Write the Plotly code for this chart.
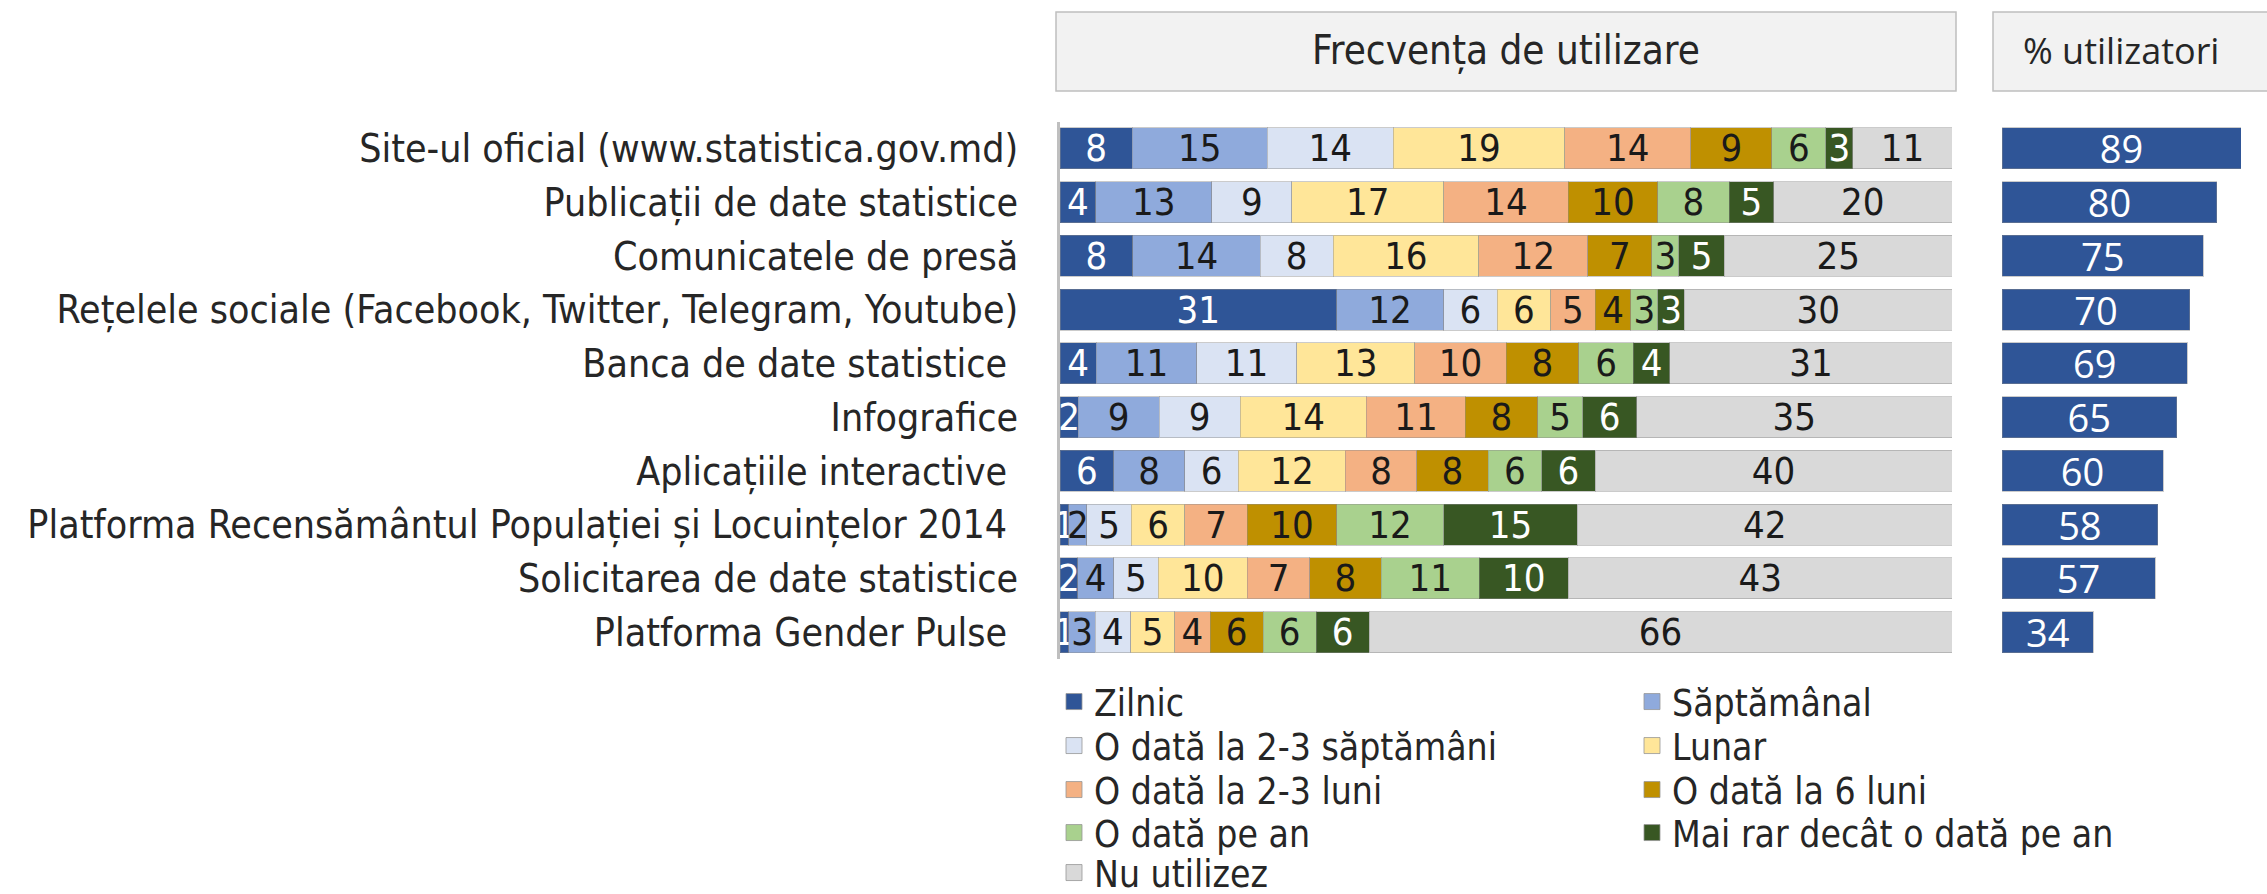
import plotly.graph_objects as go

# ---------------- data ----------------
categories = [
    "Site-ul oficial (www.statistica.gov.md)",
    "Publicații de date statistice",
    "Comunicatele de presă",
    "Rețelele sociale (Facebook, Twitter, Telegram, Youtube)",
    "Banca de date statistice\u00a0",
    "Infografice",
    "Aplicațiile interactive\u00a0",
    "Platforma Recensământul Populației și Locuințelor 2014\u00a0",
    "Solicitarea de date statistice",
    "Platforma Gender Pulse\u00a0",
]

series_names = [
    "Zilnic",
    "Săptămânal",
    "O dată la 2-3 săptămâni",
    "Lunar",
    "O dată la 2-3 luni",
    "O dată la 6 luni",
    "O dată pe an",
    "Mai rar decât o dată pe an",
    "Nu utilizez",
]

zilnic = [8, 4, 8, 31, 4, 2, 6, 1, 2, 1]
saptamanal = [15, 13, 14, 12, 11, 9, 8, 2, 4, 3]
la_2_3_saptamani = [14, 9, 8, 6, 11, 9, 6, 5, 5, 4]
lunar = [19, 17, 16, 6, 13, 14, 12, 6, 10, 5]
la_2_3_luni = [14, 14, 12, 5, 10, 11, 8, 7, 7, 4]
la_6_luni = [9, 10, 7, 4, 8, 8, 8, 10, 8, 6]
pe_an = [6, 8, 3, 3, 6, 5, 6, 12, 11, 6]
mai_rar = [3, 5, 5, 3, 4, 6, 6, 15, 10, 6]
nu_utilizez = [11, 20, 25, 30, 31, 35, 40, 42, 43, 66]

utilizatori = [89, 80, 75, 70, 69, 65, 60, 58, 57, 34]

header_left = "Frecvența de utilizare"
header_right = "% utilizatori"

series_values = [zilnic, saptamanal, la_2_3_saptamani, lunar, la_2_3_luni,
                 la_6_luni, pe_an, mai_rar, nu_utilizez]

# ---------------- styles ----------------
colors = ["#2F5597", "#8FAADC", "#DAE3F3", "#FFE699", "#F4B183",
          "#BF9000", "#A9D18E", "#385723", "#D9D9D9"]
text_colors = ["#FFFFFF", "#1A1A1A", "#1A1A1A", "#1A1A1A", "#1A1A1A",
               "#1A1A1A", "#1A1A1A", "#FFFFFF", "#1A1A1A"]
legend_ids = ["legend", "legend", "legend2", "legend2", "legend3",
              "legend3", "legend4", "legend4", "legend5"]

COND = "Liberation Sans Narrow, DejaVu Sans Condensed, Arial Narrow, sans-serif"
WIDE = "Open Sans, DejaVu Sans, sans-serif"

W, H = 2267, 894
L = 1054
PW = W - L


def px(x):
    return (x - L) / PW


def py(y):
    return 1 - y / H


totals = [sum(col) for col in zip(*series_values)]
outline = "rgba(140,140,140,0.45)"

fig = go.Figure()
for name, vals, col, tc in zip(series_names, series_values, colors, text_colors):
    share = [100.0 * v / t for v, t in zip(vals, totals)]
    fig.add_trace(go.Bar(
        y=categories, x=share, orientation="h", name=name,
        marker=dict(color=col, line=dict(color=outline, width=1)),
        text=[str(v) for v in vals], textposition="inside",
        insidetextanchor="middle", textangle=0, constraintext="none",
        textfont=dict(family=COND, size=38, color=tc),
        xaxis="x", yaxis="y", showlegend=False, hoverinfo="skip",
    ))

# legend entries (square swatches)
for name, col, lg in zip(series_names, colors, legend_ids):
    fig.add_trace(go.Scatter(
        x=[None], y=[None], mode="markers", name=name,
        marker=dict(symbol="square", size=16, color=col,
                    line=dict(color="rgba(150,150,150,0.8)", width=1)),
        xaxis="x", yaxis="y", legend=lg, hoverinfo="skip",
    ))

fig.add_trace(go.Bar(
    y=categories, x=utilizatori, orientation="h", name=header_right,
    marker=dict(color="#2F5597", line=dict(color=outline, width=1)),
    text=[str(v) for v in utilizatori], textposition="inside",
    insidetextanchor="middle", textangle=0, constraintext="none",
    textfont=dict(family=WIDE, size=38, color="#FFFFFF"),
    xaxis="x2", yaxis="y2", showlegend=False, hoverinfo="skip",
))

row_top, row_bottom = 121.6, 658.9
ydom = [py(row_bottom), py(row_top)]

LF = 37
legend_centers = [703, 747, 791, 834, 874]

layout = dict(
    width=W, height=H,
    margin=dict(l=L, r=0, t=0, b=0, pad=0, autoexpand=False),
    paper_bgcolor="white", plot_bgcolor="white",
    barmode="stack", bargap=0.237,
    uniformtext=dict(minsize=38, mode="show"),
    xaxis=dict(domain=[px(1060), px(1952)], range=[0, 100], showgrid=False,
               zeroline=False, showticklabels=False, showline=False,
               fixedrange=True),
    yaxis=dict(domain=ydom, autorange="reversed", showgrid=False,
               zeroline=False, showline=True, linecolor="#BFBFBF",
               linewidth=3, ticks="", ticklabelstandoff=31,
               tickfont=dict(family=COND, size=39, color="#262626"),
               automargin=False, anchor="x"),
    xaxis2=dict(domain=[px(2002), px(2241)], range=[0, 89], showgrid=False,
                zeroline=False, showticklabels=False, showline=False,
                anchor="y2"),
    yaxis2=dict(domain=ydom, autorange="reversed", showgrid=False,
                zeroline=False, showticklabels=False, showline=False,
                anchor="x2"),
    shapes=[
        dict(type="rect", xref="paper", yref="paper",
             x0=px(1056), x1=px(1956), y0=py(91), y1=py(12),
             fillcolor="#F2F2F2", line=dict(color="#BFBFBF", width=1.5),
             layer="below"),
        dict(type="rect", xref="paper", yref="paper",
             x0=px(1993), x1=px(2290), y0=py(91), y1=py(12),
             fillcolor="#F2F2F2", line=dict(color="#BFBFBF", width=1.5),
             layer="below"),
    ],
    annotations=[
        dict(text=header_left, xref="paper", yref="paper", x=px(1506),
             y=py(51), showarrow=False, xanchor="center", yanchor="middle",
             font=dict(family=COND, size=40, color="#262626")),
        dict(text=header_right, xref="paper", yref="paper", x=px(2121),
             y=py(51), showarrow=False, xanchor="center", yanchor="middle",
             font=dict(family=WIDE, size=36, color="#262626")),
    ],
)

for i, c in enumerate(legend_centers):
    key = "legend" if i == 0 else "legend%d" % (i + 1)
    layout[key] = dict(
        orientation="h", x=0, xanchor="left",
        y=py(c - 32), yanchor="top",
        entrywidth=533, entrywidthmode="pixels",
        font=dict(family=COND, size=LF, color="#262626"),
        bgcolor="rgba(0,0,0,0)", borderwidth=0, traceorder="normal",
        itemsizing="trace",
    )

fig.update_layout(**layout)
fig.write_html("out.html", config={"displayModeBar": False},
               post_script="document.body.style.margin='0';")
